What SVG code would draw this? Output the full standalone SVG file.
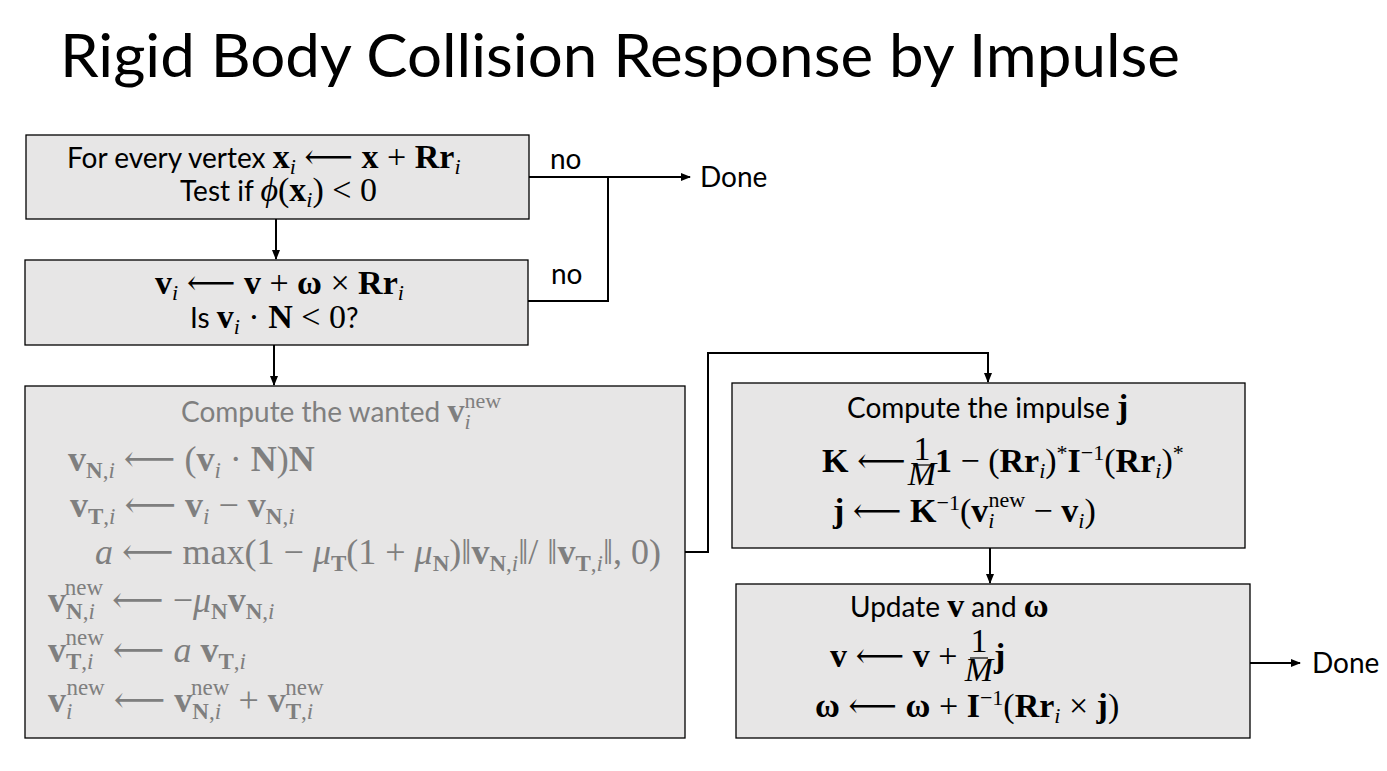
<svg xmlns="http://www.w3.org/2000/svg" width="1387" height="771" viewBox="0 0 1387 771">
<style>
.box{fill:#e7e6e6;stroke:#000;stroke-width:1.3}
.lbl{font-family:Lato,"Open Sans",sans-serif;font-size:28px;fill:#000}
.m{font-family:"Liberation Serif","DejaVu Serif",serif;font-size:34px;fill:#000}
.m3{font-family:"Liberation Serif","DejaVu Serif",serif;font-size:36px;fill:#7f7f7f}
.g{fill:#7f7f7f}
.b{font-weight:bold}
.it{font-style:italic}
.s{font-size:22px}
.m3 .s{font-size:23px}
.con{fill:none;stroke:#000;stroke-width:2}
</style>
<defs>
<marker id="ah" markerWidth="10" markerHeight="8" refX="9" refY="4" orient="auto" markerUnits="userSpaceOnUse">
<path d="M0,0 L10,4 L0,8 z" fill="#000"/>
</marker>
</defs>
<rect width="1387" height="771" fill="#fff"/>
<text x="60" y="77" font-family="Lato,'Open Sans',sans-serif" font-size="60" textLength="1120" lengthAdjust="spacingAndGlyphs">Rigid Body Collision Response by Impulse</text>

<g id="connectors">
<path class="con" d="M529,177 H690" marker-end="url(#ah)"/>
<path class="con" d="M528,301 H608 V177"/>
<path class="con" d="M276,219 V259" marker-end="url(#ah)"/>
<path class="con" d="M274,345 V385" marker-end="url(#ah)"/>
<path class="con" d="M685,552 H708 V353 H988 V382" marker-end="url(#ah)"/>
<path class="con" d="M990,548 V583" marker-end="url(#ah)"/>
<path class="con" d="M1250,663 H1300" marker-end="url(#ah)"/>
<text class="lbl" x="550" y="169">no</text>
<text class="lbl" x="551" y="284">no</text>
<text class="lbl" x="700" y="187">Done</text>
<text class="lbl" x="1312" y="673">Done</text>
</g>

<g id="box1">
<rect class="box" x="26" y="135" width="503" height="84"/>
<text class="lbl" x="67" y="168">For every vertex <tspan class="m b">x</tspan><tspan class="m it s" dy="6">i</tspan><tspan class="m" dy="-6"> ⟵ </tspan><tspan class="m b">x</tspan><tspan class="m"> + </tspan><tspan class="m b">Rr</tspan><tspan class="m it s" dy="6">i</tspan></text>
<text class="lbl" x="180" y="201">Test if <tspan class="m it">ϕ</tspan><tspan class="m">(</tspan><tspan class="m b">x</tspan><tspan class="m it s" dy="6">i</tspan><tspan class="m" dy="-6">) &lt; 0</tspan></text>
</g>

<g id="box2">
<rect class="box" x="25" y="260" width="503" height="85"/>
<text class="m" x="155" y="294"><tspan class="b">v</tspan><tspan class="it s" dy="6">i</tspan><tspan dy="-6"> ⟵ </tspan><tspan class="b">v</tspan> + <tspan class="b">ω</tspan> × <tspan class="b">Rr</tspan><tspan class="it s" dy="6">i</tspan></text>
<text class="lbl" x="190" y="328">Is <tspan class="m b">v</tspan><tspan class="m it s" dy="6">i</tspan><tspan class="m" dy="-6"> · </tspan><tspan class="m b">N</tspan><tspan class="m"> &lt; 0</tspan>?</text>
</g>

<g id="box3">
<rect class="box" x="25" y="386" width="660" height="352"/>
<text class="lbl g" x="181" y="422">Compute the wanted <tspan class="m g b">v</tspan><tspan class="m g it s" dy="7">i</tspan><tspan class="m g s" dx="-6" dy="-21">new</tspan></text>
<text class="m3" x="68" y="471"><tspan class="b">v</tspan><tspan class="s" dy="7"><tspan class="b">N</tspan>,<tspan class="it">i</tspan></tspan><tspan dy="-7"> ⟵ (</tspan><tspan class="b">v</tspan><tspan class="it s" dy="7">i</tspan><tspan dy="-7"> · </tspan><tspan class="b">N</tspan>)<tspan class="b">N</tspan></text>
<text class="m3" x="70" y="517"><tspan class="b">v</tspan><tspan class="s" dy="7"><tspan class="b">T</tspan>,<tspan class="it">i</tspan></tspan><tspan dy="-7"> ⟵ </tspan><tspan class="b">v</tspan><tspan class="it s" dy="7">i</tspan><tspan dy="-7"> − </tspan><tspan class="b">v</tspan><tspan class="s" dy="7"><tspan class="b">N</tspan>,<tspan class="it">i</tspan></tspan></text>
<text class="m3" x="95" y="564"><tspan class="it">a</tspan> ⟵ max(1 − <tspan class="it">μ</tspan><tspan class="s b" dy="7">T</tspan><tspan dy="-7">(1 + </tspan><tspan class="it">μ</tspan><tspan class="s b" dy="7">N</tspan><tspan dy="-7">)‖</tspan><tspan class="b">v</tspan><tspan class="s" dy="7"><tspan class="b">N</tspan>,<tspan class="it">i</tspan></tspan><tspan dy="-7">‖/ ‖</tspan><tspan class="b">v</tspan><tspan class="s" dy="7"><tspan class="b">T</tspan>,<tspan class="it">i</tspan></tspan><tspan dy="-7">‖, 0)</tspan></text>
<text class="m3" x="48" y="612"><tspan class="b">v</tspan><tspan class="s" dy="7"><tspan class="b">N</tspan>,<tspan class="it">i</tspan></tspan><tspan class="s" dx="-30" dy="-24">new</tspan><tspan dy="17"> ⟵ −</tspan><tspan class="it">μ</tspan><tspan class="s b" dy="7">N</tspan><tspan class="b" dy="-7">v</tspan><tspan class="s" dy="7"><tspan class="b">N</tspan>,<tspan class="it">i</tspan></tspan></text>
<text class="m3" x="48" y="662"><tspan class="b">v</tspan><tspan class="s" dy="7"><tspan class="b">T</tspan>,<tspan class="it">i</tspan></tspan><tspan class="s" dx="-28" dy="-24">new</tspan><tspan dy="17"> ⟵ </tspan><tspan class="it">a</tspan> <tspan class="b">v</tspan><tspan class="s" dy="7"><tspan class="b">T</tspan>,<tspan class="it">i</tspan></tspan></text>
<text class="m3" x="48" y="712"><tspan class="b">v</tspan><tspan class="it s" dy="7">i</tspan><tspan class="s" dx="-6" dy="-24">new</tspan><tspan dy="17"> ⟵ </tspan><tspan class="b">v</tspan><tspan class="s" dy="7"><tspan class="b">N</tspan>,<tspan class="it">i</tspan></tspan><tspan class="s" dx="-30" dy="-24">new</tspan><tspan dy="17"> + </tspan><tspan class="b">v</tspan><tspan class="s" dy="7"><tspan class="b">T</tspan>,<tspan class="it">i</tspan></tspan><tspan class="s" dx="-28" dy="-24">new</tspan></text>
</g>

<g id="box4">
<rect class="box" x="732" y="383" width="513" height="165"/>
<text class="lbl" x="847" y="418">Compute the impulse <tspan class="m b">j</tspan></text>
<text class="m" x="822" y="472"><tspan class="b">K</tspan> ⟵</text>
<text class="m" x="922" y="460" font-size="17" text-anchor="middle">1</text>
<line x1="913" y1="465" x2="931" y2="465" stroke="#000" stroke-width="1.2"/>
<text class="m it" x="922" y="485" font-size="17" text-anchor="middle">M</text>
<text class="m" x="935" y="472"><tspan class="b">1</tspan> − (<tspan class="b">Rr</tspan><tspan class="it s" dy="6">i</tspan><tspan dy="-6">)</tspan><tspan class="s" dy="-12">*</tspan><tspan class="b" dy="12">I</tspan><tspan class="s" dy="-12">−1</tspan><tspan dy="12">(</tspan><tspan class="b">Rr</tspan><tspan class="it s" dy="6">i</tspan><tspan dy="-6">)</tspan><tspan class="s" dy="-12">*</tspan></text>
<text class="m" x="833" y="522"><tspan class="b">j</tspan> ⟵ <tspan class="b">K</tspan><tspan class="s" dy="-12">−1</tspan><tspan dy="12">(</tspan><tspan class="b">v</tspan><tspan class="it s" dy="6">i</tspan><tspan class="s" dx="-6" dy="-21">new</tspan><tspan dy="15"> − </tspan><tspan class="b">v</tspan><tspan class="it s" dy="6">i</tspan><tspan dy="-6">)</tspan></text>
</g>

<g id="box5">
<rect class="box" x="736" y="584" width="514" height="154"/>
<text class="lbl" x="850" y="617">Update <tspan class="m b">v</tspan> and <tspan class="m b">ω</tspan></text>
<text class="m" x="830" y="667"><tspan class="b">v</tspan> ⟵ <tspan class="b">v</tspan> +</text>
<text class="m" x="979" y="652" font-size="19" text-anchor="middle">1</text>
<line x1="970" y1="658" x2="988" y2="658" stroke="#000" stroke-width="1.2"/>
<text class="m it" x="979" y="681" font-size="19" text-anchor="middle">M</text>
<text class="m b" x="994" y="667">j</text>
<text class="m" x="815" y="717"><tspan class="b">ω</tspan> ⟵ <tspan class="b">ω</tspan> + <tspan class="b">I</tspan><tspan class="s" dy="-12">−1</tspan><tspan dy="12">(</tspan><tspan class="b">Rr</tspan><tspan class="it s" dy="6">i</tspan><tspan dy="-6"> × </tspan><tspan class="b">j</tspan>)</text>
</g>
</svg>
